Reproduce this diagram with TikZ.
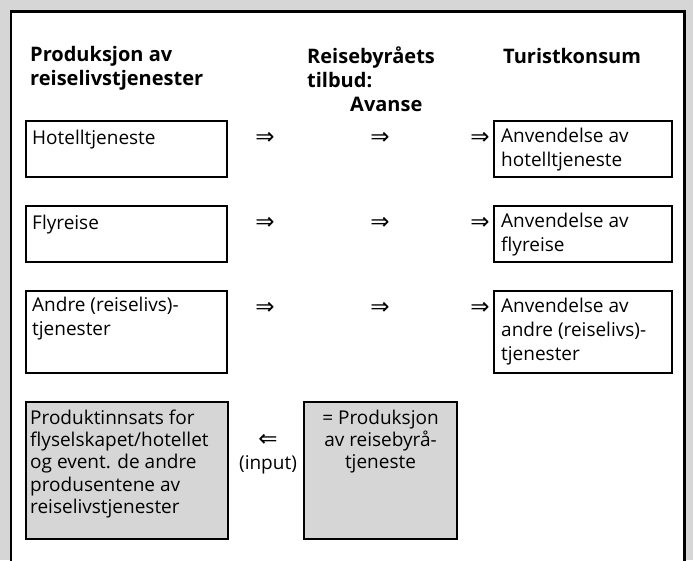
\documentclass[tikz,border=0pt]{standalone}
\usepackage{fontspec}
\setmainfont{Open Sans}
\newfontfamily\arrowfont{DejaVu Sans}
\usepackage{tikz}
\usetikzlibrary{math}

\begin{document}
\begin{tikzpicture}[x=1pt, y=-1pt,
  box/.style={draw, line width=1.5pt, anchor=north west, inner sep=0pt, outer sep=0pt},
  shaded/.style={box, fill=black!16},
  txt/.style={font=\fontsize{19}{24}\selectfont, align=left, inner sep=0pt,
    anchor=north west, yshift=16.8pt, execute at begin node=\strut},
  tighttxt/.style={txt, font=\fontsize{19}{22.3}\selectfont, yshift=-1.19pt},
  head/.style={txt, font=\bfseries\fontsize{20}{24}\selectfont},
  sym/.style={font=\fontsize{19}{24}\selectfont, inner sep=0pt, anchor=base},
  impl/.style={sym, font=\arrowfont\fontsize{23}{24}\selectfont}]
  \tikzmath{\colL = 26; \colR = 494; \widL = 201; \widR = 178;}
  \clip (0,0) rectangle (693,560);
  \fill[black!16] (0,0) rectangle (693,560);
  \draw[line width=2.2pt, fill=white] (11,11.5) rectangle (684.5,590);

  % headings
  \node[head] (prodhead) at (30,63) {Produksjon av\\reiselivstjenester};
  \node[head] (reisehead) at (307,63) {Reisebyråets\\tilbud:};
  \node[head] (avanse) at (350,111) {Avanse};
  \node[head] (turisthead) at (503,63) {Turistkonsum};

  % production of travel services
  \node[box, minimum width=\widL, minimum height=56] (hotel) at (\colL,121) {};
  \node[txt] (hoteltxt) at (\colL+6,144) {Hotelltjeneste};
  \node[box, minimum width=\widL, minimum height=56] (fly) at (\colL,206) {};
  \node[txt] (flytxt) at (\colL+6,229) {Flyreise};
  \node[box, minimum width=\widL, minimum height=82] (andre) at (\colL,291) {};
  \node[txt] (andretxt) at (\colL+6,314) {Andre (reiselivs)-\\tjenester};

  % tourist consumption
  \node[box, minimum width=\widR, minimum height=56] (brukhotel) at (\colR,121) {};
  \node[txt] (brukhoteltxt) at (\colR+7,145) {Anvendelse av\\hotelltjeneste};
  \node[box, minimum width=\widR, minimum height=56] (brukfly) at (\colR,206) {};
  \node[txt] (bruklytxt) at (\colR+7,230) {Anvendelse av\\flyreise};
  \node[box, minimum width=\widR, minimum height=82] (brukandre) at (\colR,291) {};
  \node[txt] (brukandretxt) at (\colR+7,315) {Anvendelse av\\andre (reiselivs)-\\tjenester};

  % implication signs
  \node[impl] (ha) at (265,144) {⇒};
  \node[impl] (hb) at (380,144) {⇒};
  \node[impl] (hc) at (480,144) {⇒};
  \node[impl] (fa) at (265,229) {⇒};
  \node[impl] (fb) at (380,229) {⇒};
  \node[impl] (fc) at (480,229) {⇒};
  \node[impl] (aa) at (265,314) {⇒};
  \node[impl] (ab) at (380,314) {⇒};
  \node[impl] (ac) at (480,314) {⇒};

  % input to the travel agency
  \node[shaded, minimum width=202, minimum height=137] (innsats) at (\colL,402) {};
  \node[tighttxt] (innsatstxt) at (\colL+4,425) {Produktinnsats for\\flyselskapet/hotellet\\og event. de andre\\produsentene av\\reiselivstjenester};
  \node[shaded, minimum width=153, minimum height=137] (byraa) at (304,402) {};
  \node[tighttxt, align=center, anchor=north] (byraatxt) at (380.5,425) {= Produksjon\\av reisebyrå-\\tjeneste};
  \node[impl] (tilbake) at (268,446) {⇐};
  \node[sym] (input) at (268,469) {(input)};
\end{tikzpicture}
\end{document}
